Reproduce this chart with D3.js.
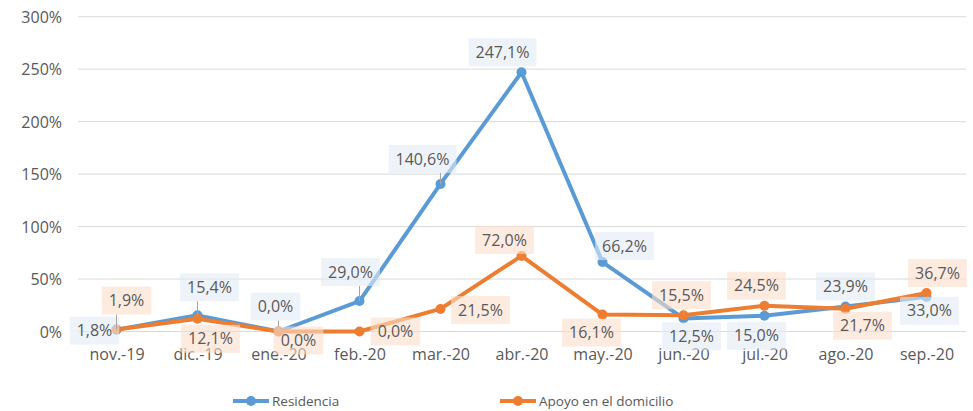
<!DOCTYPE html>
<html>
<head>
<meta charset="utf-8">
<script src="https://cdn.jsdelivr.net/npm/d3@7"></script>
<style>
  body { margin: 0; background: #fff; }
  svg text { font-family: "Open Sans", sans-serif; fill: #595959; }
</style>
</head>
<body>
<div id="chart-area"></div>
<script>
// data
const months = ["nov.-19", "dic.-19", "ene.-20", "feb.-20", "mar.-20", "abr.-20",
  "may.-20", "jun.-20", "jul.-20", "ago.-20", "sep.-20"]
const residencia = [1.8, 15.4, 0.0, 29.0, 140.6, 247.1, 66.2, 12.5, 15.0, 23.9, 33.0]
const apoyo = [1.9, 12.1, 0.0, 0.0, 21.5, 72.0, 16.1, 15.5, 24.5, 21.7, 36.7]
const yTicks = [0, 50, 100, 150, 200, 250, 300]

// label placement (offset from the point, plus leader line flag)
const resLabelPos = [[-22, 1, 0], [12, -28, 1], [-3, -25, 1], [-9, -29, 1], [-18, -25, 1], [-19, -20, 0],
  [22, -16, 0], [8, 18, 0], [-8, 20, 0], [0, -20, 0], [3, 14, 0]]
const apoLabelPos = [[10, -29, 1], [13, 20, 0], [20, 9, 0], [36, 0, 0], [40, 1, 0], [-17, -16, 0],
  [-11, 18, 0], [-2, -20, 1], [-8, -20, 0], [17, 17, 0], [11, -20, 0]]

const series = [
  { name: "Residencia", values: residencia, color: "#5b9bd5", box: "#e3ebf7", pos: resLabelPos },
  { name: "Apoyo en el domicilio", values: apoyo, color: "#ed7d31", box: "#fcdecb", pos: apoLabelPos }
]

const W = 973, H = 411

const svg = d3.select("#chart-area").append("svg")
  .attr("width", W)
  .attr("height", H)

// scales
const x = d3.scalePoint().domain(months).range([76, 967]).padding(0.5)
const y = d3.scaleLinear().domain([0, 300]).range([331.5, 16.7])

// gridlines
svg.append("g")
  .selectAll("line")
  .data(yTicks)
  .join("line")
  .attr("x1", 78).attr("x2", 966)
  .attr("y1", d => y(d)).attr("y2", d => y(d))
  .attr("stroke", "#d9d9d9")
  .attr("stroke-width", 1)

// y axis labels
const yAxis = svg.append("g")
  .attr("transform", "translate(62,0)")
  .call(d3.axisLeft(y).tickValues(yTicks).tickSize(0).tickPadding(0).tickFormat(d => d + "%"))
yAxis.select(".domain").remove()
yAxis.selectAll("text").attr("font-size", 16).attr("font-family", null).attr("dy", "0.35em")

// x axis labels
const xAxis = svg.append("g")
  .attr("transform", "translate(0,349)")
  .call(d3.axisBottom(x).tickSize(0).tickPadding(0))
xAxis.select(".domain").remove()
xAxis.selectAll("text").attr("font-size", 16).attr("font-family", null).attr("dy", "0.71em")

// lines and markers
const line = d3.line()
  .x((d, i) => x(months[i]))
  .y(d => y(d))

series.forEach(s => {
  svg.append("path")
    .datum(s.values)
    .attr("d", line)
    .attr("fill", "none")
    .attr("stroke", s.color)
    .attr("stroke-width", 4)
    .attr("stroke-linejoin", "round")
  svg.append("g")
    .selectAll("circle")
    .data(s.values)
    .join("circle")
    .attr("cx", (d, i) => x(months[i]))
    .attr("cy", d => y(d))
    .attr("r", 5)
    .attr("fill", s.color)
})

// data labels
const fmt = v => v.toFixed(1).replace(".", ",") + "%"

series.forEach(s => {
  const g = svg.append("g")
  s.values.forEach((v, i) => {
    const px = x(months[i]), py = y(v)
    const [dx, dy, leader] = s.pos[i]
    const cx = px + dx, cy = py + dy
    const lab = g.append("g")
    const rect = lab.append("rect")
    const t = lab.append("text")
      .attr("x", cx).attr("y", cy)
      .attr("text-anchor", "middle")
      .attr("dy", "0.35em")
      .attr("font-size", 16)
      .text(fmt(v))
    const bb = t.node().getBBox()
    const bw = bb.width + 14, bh = 28
    rect.attr("x", cx - bw / 2).attr("y", cy - bh / 2)
      .attr("width", bw).attr("height", bh)
      .attr("fill", s.box)
      .attr("fill-opacity", 0.6)
    if (leader) {
      // end the leader at the box edge nearest the point
      const ex = Math.max(cx - bw / 2, Math.min(px, cx + bw / 2))
      const ey = Math.max(cy - bh / 2, Math.min(py, cy + bh / 2))
      lab.insert("line", "rect")
        .attr("x1", px).attr("y1", py)
        .attr("x2", ex).attr("y2", ey)
        .attr("stroke", "#a6a6a6")
        .attr("stroke-width", 1)
    }
  })
})

// legend
const legendItems = [
  { s: series[0], x: 233 },
  { s: series[1], x: 500 }
]
const legend = svg.append("g").attr("transform", "translate(0,401)")
legendItems.forEach(d => {
  legend.append("line")
    .attr("x1", d.x).attr("x2", d.x + 36)
    .attr("stroke", d.s.color).attr("stroke-width", 4)
  legend.append("circle")
    .attr("cx", d.x + 18).attr("r", 5).attr("fill", d.s.color)
  legend.append("text")
    .attr("x", d.x + 39).attr("dy", "0.35em")
    .attr("font-size", 13.5)
    .text(d.s.name)
})
</script>
</body>
</html>
